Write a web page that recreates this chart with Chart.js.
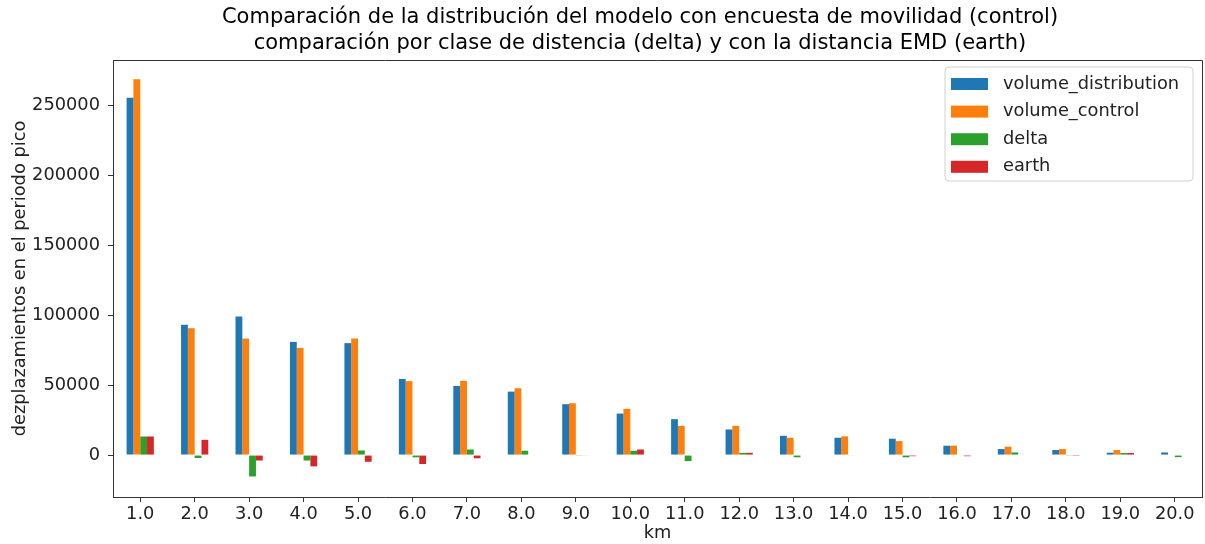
<!DOCTYPE html>
<html>
<head>
<meta charset="utf-8">
<script src="https://cdn.jsdelivr.net/npm/chart.js@4.4.1/dist/chart.umd.min.js"></script>
<style>
html,body{margin:0;padding:0;background:#fff;}
#wrap{width:1205px;height:544px;position:relative;}
</style>
</head>
<body>
<div id="wrap"><canvas id="c" width="1205" height="544"></canvas></div>
<script>
const categories = ['1.0','2.0','3.0','4.0','5.0','6.0','7.0','8.0','9.0','10.0','11.0','12.0','13.0','14.0','15.0','16.0','17.0','18.0','19.0','20.0'];
const volumeDistribution = [255700, 93200, 99100, 81000, 80100, 54500, 49500, 45400, 36400, 29700, 25700, 18300, 13800, 12400, 11700, 6700, 4300, 3600, 1700, 1900];
const volumeControl = [269000, 90800, 83400, 76700, 83400, 52900, 53100, 47800, 37100, 33100, 20900, 20900, 12400, 13400, 10000, 6700, 6000, 4300, 3600, 0];
const delta = [13300, -2100, -15300, -3900, 3300, -1600, 4000, 3100, -500, 3100, -4300, 1600, -1600, -400, -1600, 0, 1900, -500, 1500, -1500];
const earth = [13300, 10900, -3900, -8100, -4800, -6400, -2300, 0, -400, 4000, 0, 1600, 0, 0, -800, -800, 0, -600, 1500, 0];
const seriesNames = ['volume_distribution', 'volume_control', 'delta', 'earth'];
const seriesColors = ['#1f77b4', '#ff7f0e', '#2ca02c', '#d62728'];
const yTicks = [0, 50000, 100000, 150000, 200000, 250000];
const titleLines = ['Comparación de la distribución del modelo con encuesta de movilidad (control)', 'comparación por clase de distencia (delta) y con la distancia EMD (earth)'];

const FONT = "'DejaVu Sans', sans-serif";
const FS = 17.8;
const seriesData = [volumeDistribution, volumeControl, delta, earth];

const frameAndLegend = {
  id: 'frameAndLegend',
  afterDraw(chart) {
    const ctx = chart.ctx;
    const a = chart.chartArea;
    ctx.save();
    // title
    ctx.fillStyle = '#000';
    ctx.font = '21px ' + FONT;
    ctx.textAlign = 'center';
    ctx.textBaseline = 'middle';
    ctx.fillText(titleLines[0], 640, 18);
    ctx.fillText(titleLines[1], 640, 44);
    // frame
    ctx.strokeStyle = '#333';
    ctx.lineWidth = 1;
    ctx.beginPath();
    ctx.moveTo(a.left, a.top + 0.5);
    ctx.lineTo(a.right + 0.5, a.top + 0.5);
    ctx.lineTo(a.right + 0.5, a.bottom);
    ctx.stroke();
    // legend
    const bx = a.right - 257, by = a.top + 7, bw = 248, bh = 114, r = 4;
    ctx.fillStyle = 'rgba(255,255,255,0.8)';
    ctx.strokeStyle = '#d0d0d0';
    ctx.beginPath();
    ctx.moveTo(bx + r, by);
    ctx.lineTo(bx + bw - r, by);
    ctx.quadraticCurveTo(bx + bw, by, bx + bw, by + r);
    ctx.lineTo(bx + bw, by + bh - r);
    ctx.quadraticCurveTo(bx + bw, by + bh, bx + bw - r, by + bh);
    ctx.lineTo(bx + r, by + bh);
    ctx.quadraticCurveTo(bx, by + bh, bx, by + bh - r);
    ctx.lineTo(bx, by + r);
    ctx.quadraticCurveTo(bx, by, bx + r, by);
    ctx.closePath();
    ctx.fill();
    ctx.stroke();
    ctx.font = FS + 'px ' + FONT;
    ctx.textBaseline = 'middle';
    ctx.textAlign = 'left';
    for (let i = 0; i < seriesNames.length; i++) {
      const cy = by + 17 + i * 27.6;
      ctx.fillStyle = seriesColors[i];
      ctx.fillRect(bx + 6, cy - 6, 37, 12);
      ctx.fillStyle = '#222';
      ctx.fillText(seriesNames[i], bx + 58, cy);
    }
    ctx.restore();
  }
};

new Chart(document.getElementById('c'), {
  type: 'bar',
  data: {
    labels: categories,
    datasets: seriesNames.map((n, i) => ({
      label: n,
      data: seriesData[i],
      backgroundColor: seriesColors[i],
      borderWidth: 0,
      categoryPercentage: 0.5,
      barPercentage: 1.0
    }))
  },
  options: {
    responsive: false,
    animation: false,
    layout: { padding: { left: 0, right: 3, top: 60, bottom: 0 } },
    plugins: {
      legend: { display: false },
      tooltip: { enabled: false },
      title: { display: false }
    },
    scales: {
      x: {
        offset: true,
        grid: { display: true, drawOnChartArea: false, drawTicks: true, tickLength: 5, color: '#333', offset: false },
        border: { display: true, color: '#333' },
        ticks: { color: '#222', font: { family: FONT, size: FS }, padding: 2, maxRotation: 0, autoSkip: false },
        title: { display: true, text: 'km', color: '#222', font: { family: FONT, size: FS }, padding: { top: 0, bottom: 0 } },
        afterFit(s) { s.height = 47; }
      },
      y: {
        min: -30000,
        max: 282700,
        grid: { display: true, drawOnChartArea: false, drawTicks: true, tickLength: 5, color: '#333' },
        border: { display: true, color: '#333' },
        ticks: { color: '#222', font: { family: FONT, size: FS }, padding: 8, stepSize: 50000, callback: v => String(v) },
        afterBuildTicks(s) { s.ticks = yTicks.map(v => ({ value: v })); },
        title: { display: true, text: 'dezplazamientos en el periodo pico', color: '#222', font: { family: FONT, size: FS }, padding: { top: 10, bottom: 0 } },
        afterFit(s) { s.width = 113; }
      }
    }
  },
  plugins: [frameAndLegend]
});
</script>
</body>
</html>
